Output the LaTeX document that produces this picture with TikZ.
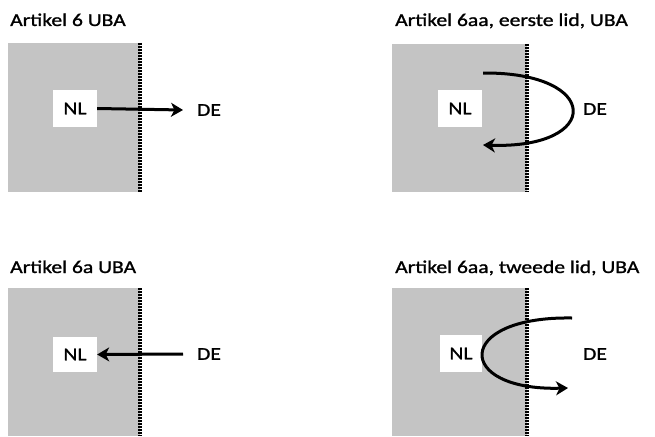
\documentclass[tikz,border=0pt]{standalone}
\usepackage{fontspec}
\setmainfont{Carlito}[FakeStretch=1.2, FakeBold=1.2]
\usetikzlibrary{arrows.meta}
\definecolor{shade}{RGB}{196,196,196}
\begin{document}
\begin{tikzpicture}[x=1pt,y=-1pt,
  zone/.style={fill=shade, draw=none},
  border/.style={line width=3.2pt, dash pattern=on 1.6pt off 1.4pt},
  nlbox/.style={fill=white, minimum width=44pt, minimum height=37pt, inner sep=0pt, font=\fontsize{18}{20}\selectfont},
  lbl/.style={font=\fontsize{18}{20}\selectfont, inner sep=0pt},
  title/.style={font=\fontsize{18}{20}\selectfont, anchor=base west, inner sep=0pt},
  flow/.style={line width=3pt, -{Stealth[length=12pt,width=14pt,inset=3.5pt]}}]
\useasboundingbox (0,0) rectangle (655,436);
% panel 1
\node[title] (ti1) at (10,26) {Artikel 6 UBA};
\fill[zone] (8,43) rectangle (140,192);
\draw[border] (140,43) -- (140,192);
\node[nlbox] (nl1) at (75,108.5) {NL};
\node[lbl] (de1) at (209,110) {DE};
\coordinate (t1) at (183,110);
\draw[flow] (nl1.east) -- (t1);
% panel 2
\node[title] (ti2) at (395,26) {Artikel 6aa, eerste lid, UBA};
\fill[zone] (392,44) rectangle (527,192);
\draw[border] (527,44) -- (527,192);
\node[nlbox] (nl2) at (460,108.5) {NL};
\node[lbl] (de2) at (595,109) {DE};
\coordinate (s2) at (483,73);
\coordinate (e2) at (483,145);
\draw[flow] (s2) .. controls (602,72) and (602,149) .. (e2);
% panel 3
\node[title] (ti3) at (10,273) {Artikel 6a UBA};
\fill[zone] (8,288) rectangle (140,436);
\draw[border] (140,288) -- (140,436);
\node[nlbox, minimum height=35pt] (nl3) at (75,354.5) {NL};
\node[lbl] (de3) at (209,354) {DE};
\coordinate (s3) at (183,354);
\draw[flow] (s3) -- (nl3.east);
% panel 4
\node[title] (ti4) at (395,273) {Artikel 6aa, tweede lid, UBA};
\fill[zone] (392,288) rectangle (527,436);
\draw[border] (527,288) -- (527,436);
\node[nlbox, minimum width=42pt] (nl4) at (461,353.5) {NL};
\node[lbl] (de4) at (595,354) {DE};
\coordinate (s4) at (572,318);
\coordinate (e4) at (568,388);
\draw[flow] (s4) .. controls (454,316) and (454,391) .. (e4);
\end{tikzpicture}
\end{document}
